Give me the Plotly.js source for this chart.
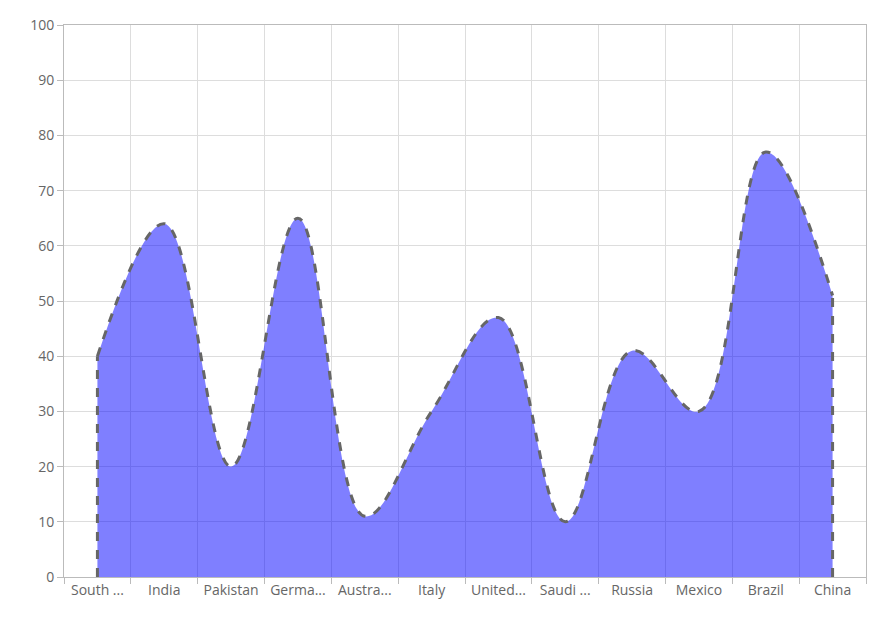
<!DOCTYPE html>
<html>
<head>
<meta charset="utf-8">
<script src="https://cdn.plot.ly/plotly-3.0.1.min.js"></script>
<style>html,body{margin:0;padding:0;background:#fff}#plot{width:888px;height:627px}</style>
</head>
<body>
<div id="plot"></div>
<script>
"use strict";

const countries = ["South ...", "India", "Pakistan", "Germa...", "Austra...", "Italy",
  "United...", "Saudi ...", "Russia", "Mexico", "Brazil", "China"];
const values = [40, 64, 20, 65, 11, 30, 47, 10, 41, 30, 77, 51];

const first = 0;
const last = countries.length - 1;

const data = [
  {
    x: countries,
    y: values,
    type: "scatter",
    mode: "lines",
    line: { shape: "spline", smoothing: 1.1, color: "#666666", width: 3, dash: "dash" },
    fill: "tozeroy",
    fillcolor: "rgba(0,0,255,0.5)",
    hoverinfo: "x+y",
  },
  {
    // vertical edges at both ends of the area
    x: [countries[first], countries[first], null, countries[last], countries[last]],
    y: [0, values[first], null, 0, values[last]],
    type: "scatter",
    mode: "lines",
    line: { color: "#666666", width: 3, dash: "dash" },
    hoverinfo: "skip",
  },
];

const layout = {
  width: 888,
  height: 627,
  margin: { l: 64, r: 22, t: 25, b: 50 },
  showlegend: false,
  font: { family: "Open Sans, sans-serif", size: 14, color: "#666666" },
  plot_bgcolor: "#ffffff",
  paper_bgcolor: "#ffffff",
  xaxis: {
    type: "category",
    tickson: "boundaries",
    ticks: "outside",
    ticklen: 6,
    tickcolor: "#bbbbbb",
    showgrid: true,
    gridcolor: "#dddddd",
    showline: true,
    linecolor: "#bbbbbb",
    mirror: true,
    range: [-0.5, 11.5],
    fixedrange: true,
  },
  yaxis: {
    range: [0, 100],
    dtick: 10,
    ticks: "outside",
    ticklen: 6,
    tickcolor: "#bbbbbb",
    showgrid: true,
    gridcolor: "#dddddd",
    zeroline: false,
    showline: true,
    linecolor: "#bbbbbb",
    mirror: true,
    fixedrange: true,
  },
};

Plotly.newPlot("plot", data, layout, { displayModeBar: false });
</script>
</body>
</html>
